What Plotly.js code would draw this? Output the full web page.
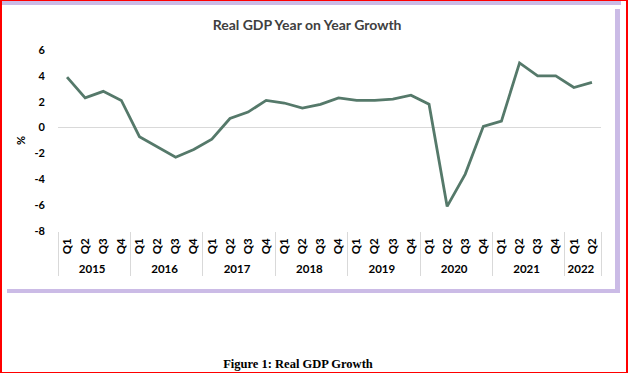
<!DOCTYPE html>
<html>
<head>
<meta charset="utf-8">
<script src="https://cdn.plot.ly/plotly-3.0.1.min.js"></script>
<style>
  html, body { margin: 0; padding: 0; width: 628px; height: 373px; overflow: hidden; background: #ffffff; }
  #frame { position: absolute; left: 0; top: 0; width: 624px; height: 371px; border-left: 2px solid #ff0000; border-top: 1px solid #ff0000; border-right: 2px solid #ff0000; border-bottom: 1px solid #ff0000; }
  #topband { position: absolute; left: 2px; top: 1px; width: 619px; height: 4px; background: #cbbbe6; }
  #box { position: absolute; left: 2px; top: 5px; width: 613px; height: 284px; background: #ffffff; box-shadow: 5px 4px 0 #cbbbe6; }
  #chart { position: absolute; left: 0; top: 0; width: 628px; height: 373px; }
  #caption { position: absolute; left: 0; width: 596px; top: 357px; text-align: center; font-family: "Liberation Serif", "Times New Roman", serif; font-weight: bold; font-size: 12.5px; color: #000; }
</style>
</head>
<body>
<div id="frame"></div>
<div id="topband"></div>
<div id="box"></div>
<div id="chart"></div>
<div id="caption">Figure 1: Real GDP Growth</div>
<script>
const years = ['2015','2015','2015','2015','2016','2016','2016','2016','2017','2017','2017','2017',
               '2018','2018','2018','2018','2019','2019','2019','2019','2020','2020','2020','2020',
               '2021','2021','2021','2021','2022','2022'];
const quarters = ['Q1','Q2','Q3','Q4','Q1','Q2','Q3','Q4','Q1','Q2','Q3','Q4',
                  'Q1','Q2','Q3','Q4','Q1','Q2','Q3','Q4','Q1','Q2','Q3','Q4',
                  'Q1','Q2','Q3','Q4','Q1','Q2'];
const growth = [3.9, 2.3, 2.8, 2.1, -0.7, -1.5, -2.3, -1.7, -0.9, 0.7, 1.2, 2.1,
                1.9, 1.5, 1.8, 2.3, 2.1, 2.1, 2.2, 2.5, 1.8, -6.1, -3.6, 0.1,
                0.5, 5.0, 4.0, 4.0, 3.1, 3.5];
const yTicks = [-8, -6, -4, -2, 0, 2, 4, 6];

const trace = {
  type: 'scatter', mode: 'lines',
  x: [years, quarters], y: growth,
  line: { color: '#55796a', width: 2.8 },
  hoverinfo: 'skip'
};

const layout = {
  width: 628, height: 373,
  paper_bgcolor: 'rgba(0,0,0,0)', plot_bgcolor: 'rgba(0,0,0,0)',
  margin: { l: 58, r: 27, t: 50, b: 142 },
  showlegend: false,
  title: { text: 'Real GDP Year on Year Growth', x: 0.489, xanchor: 'center', y: 0.932, yanchor: 'middle',
           font: { family: 'Lato, "Open Sans", sans-serif', size: 14, color: '#404040', weight: 'bold' } },
  font: { family: 'Lato, "Open Sans", sans-serif', color: '#000000' },
  xaxis: {
    type: 'multicategory',
    range: [-0.5, 29.5],
    showgrid: false, zeroline: false, showline: false,
    ticks: '', tickangle: -90,
    ticklabelstandoff: 4,
    tickfont: { size: 11.5, family: 'Lato, sans-serif', color: '#000', weight: 'bold' },
    showdividers: true, dividercolor: '#d9d9d9', dividerwidth: 1,
    fixedrange: true
  },
  yaxis: {
    range: [-8, 6], tickvals: yTicks, ticktext: yTicks.map(String),
    showgrid: false, showline: false, ticks: '',
    zeroline: true, zerolinecolor: '#d9d9d9', zerolinewidth: 1,
    ticklabelstandoff: 12,
    tickfont: { size: 11, family: 'Lato, sans-serif', color: '#000', weight: 'bold' },
    title: { text: '%', standoff: 6, font: { size: 11, family: 'Lato, sans-serif', color: '#000', weight: 'bold' } },
    fixedrange: true
  }
};

Plotly.newPlot('chart', [trace], layout, { displayModeBar: false, staticPlot: true });
</script>
</body>
</html>
